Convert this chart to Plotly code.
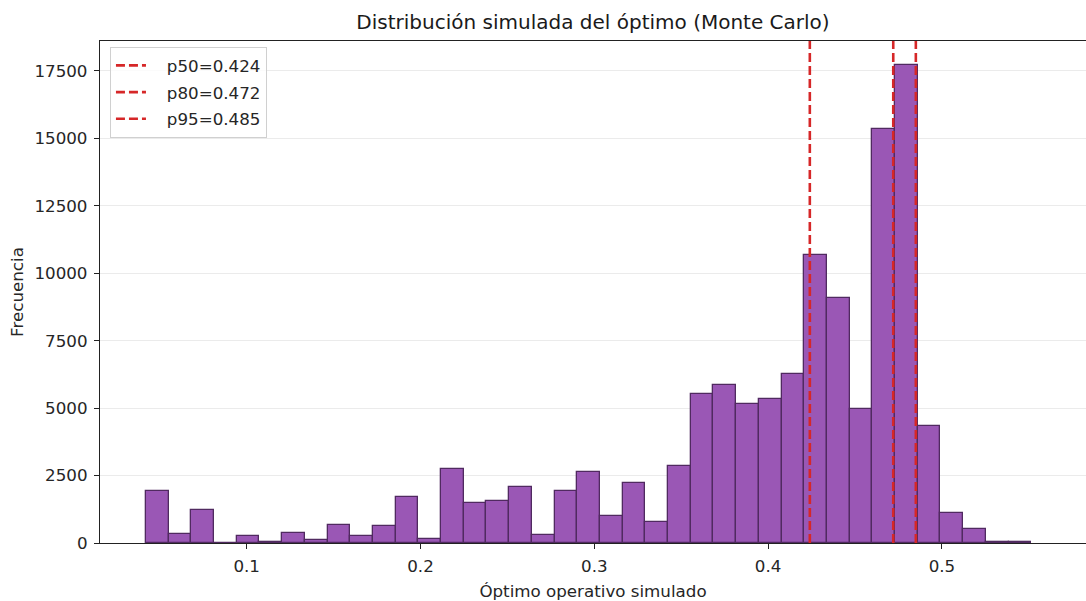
import plotly.graph_objects as go

# ---- data ----
bin_start = 0.04206
bin_width = 0.01306
counts = [1940, 350, 1215, 0, 275, 40, 360, 125, 685, 250,
          645, 1710, 150, 2730, 1495, 1570, 2075, 285, 1935, 2635,
          1005, 2215, 770, 2860, 5530, 5845, 5140, 5340, 6260, 10690,
          9100, 4960, 15340, 17740, 4350, 1115, 510, 40, 20]
percentile_names = ["p50", "p80", "p95"]
percentile_values = [0.424, 0.472, 0.485]
x_ticks = [0.1, 0.2, 0.3, 0.4, 0.5]
y_ticks = [0, 2500, 5000, 7500, 10000, 12500, 15000, 17500]

centers = [bin_start + bin_width * (i + 0.5) for i in range(len(counts))]

FONT = "DejaVu Sans"
FS = 16.7

fig = go.Figure()
fig.add_trace(go.Bar(
    x=centers, y=counts, width=[bin_width] * len(counts),
    marker=dict(color="#9a57b5", line=dict(color="#502a60", width=1.3)),
    showlegend=False, hoverinfo="x+y",
))

for name, v in zip(percentile_names, percentile_values):
    fig.add_trace(go.Scatter(
        x=[v, v], y=[0, 1], yaxis="y2", mode="lines",
        line=dict(color="#d62728", width=2.6, dash="9px,4px"),
        name="\u00a0\u00a0\u00a0" + f"{name}={v:.3f}",
        legendgroup=name,
    ))

fig.update_layout(
    width=1086, height=601,
    margin=dict(l=100, r=0, t=41, b=58),
    paper_bgcolor="white", plot_bgcolor="white",
    font=dict(family=FONT, size=FS, color="#262626"),
    bargap=0,
    title=dict(text="Distribución simulada del óptimo (Monte Carlo)",
               x=0.5, xref="paper", xanchor="center",
               y=1 - 22 / 601, yanchor="middle",
               font=dict(family=FONT, size=20, color="#1a1a1a")),
    xaxis=dict(
        range=[0.0156, 0.5829], tickvals=x_ticks,
        ticktext=[str(t) for t in x_ticks],
        showgrid=False, zeroline=False,
        showline=True, linecolor="#222222", linewidth=1.3, mirror=True,
        ticks="outside", ticklen=5, tickcolor="#222222",
        ticklabelstandoff=3,
        tickfont=dict(size=FS, color="#262626"),
        title=dict(text="Óptimo operativo simulado", standoff=12,
                   font=dict(size=FS, color="#262626")),
    ),
    yaxis=dict(
        range=[0, 18612], tickvals=y_ticks,
        ticktext=[str(t) for t in y_ticks],
        showgrid=True, gridcolor="#ebebeb", gridwidth=1, zeroline=False,
        showline=True, linecolor="#222222", linewidth=1.3,
        ticks="outside", ticklen=5, tickcolor="#222222",
        ticklabelstandoff=3,
        tickfont=dict(size=FS, color="#262626"),
        title=dict(text="Frecuencia", standoff=6,
                   font=dict(size=FS, color="#262626")),
    ),
    yaxis2=dict(range=[0, 1], overlaying="y", visible=False, fixedrange=True),
    legend=dict(
        x=0.0101, y=0.988, xanchor="left", yanchor="top",
        bgcolor="rgba(255,255,255,0.8)", bordercolor="#d0d0d0", borderwidth=1,
        font=dict(size=FS, color="#262626"),
        tracegroupgap=2,
    ),
)

fig.write_html("out.html")
